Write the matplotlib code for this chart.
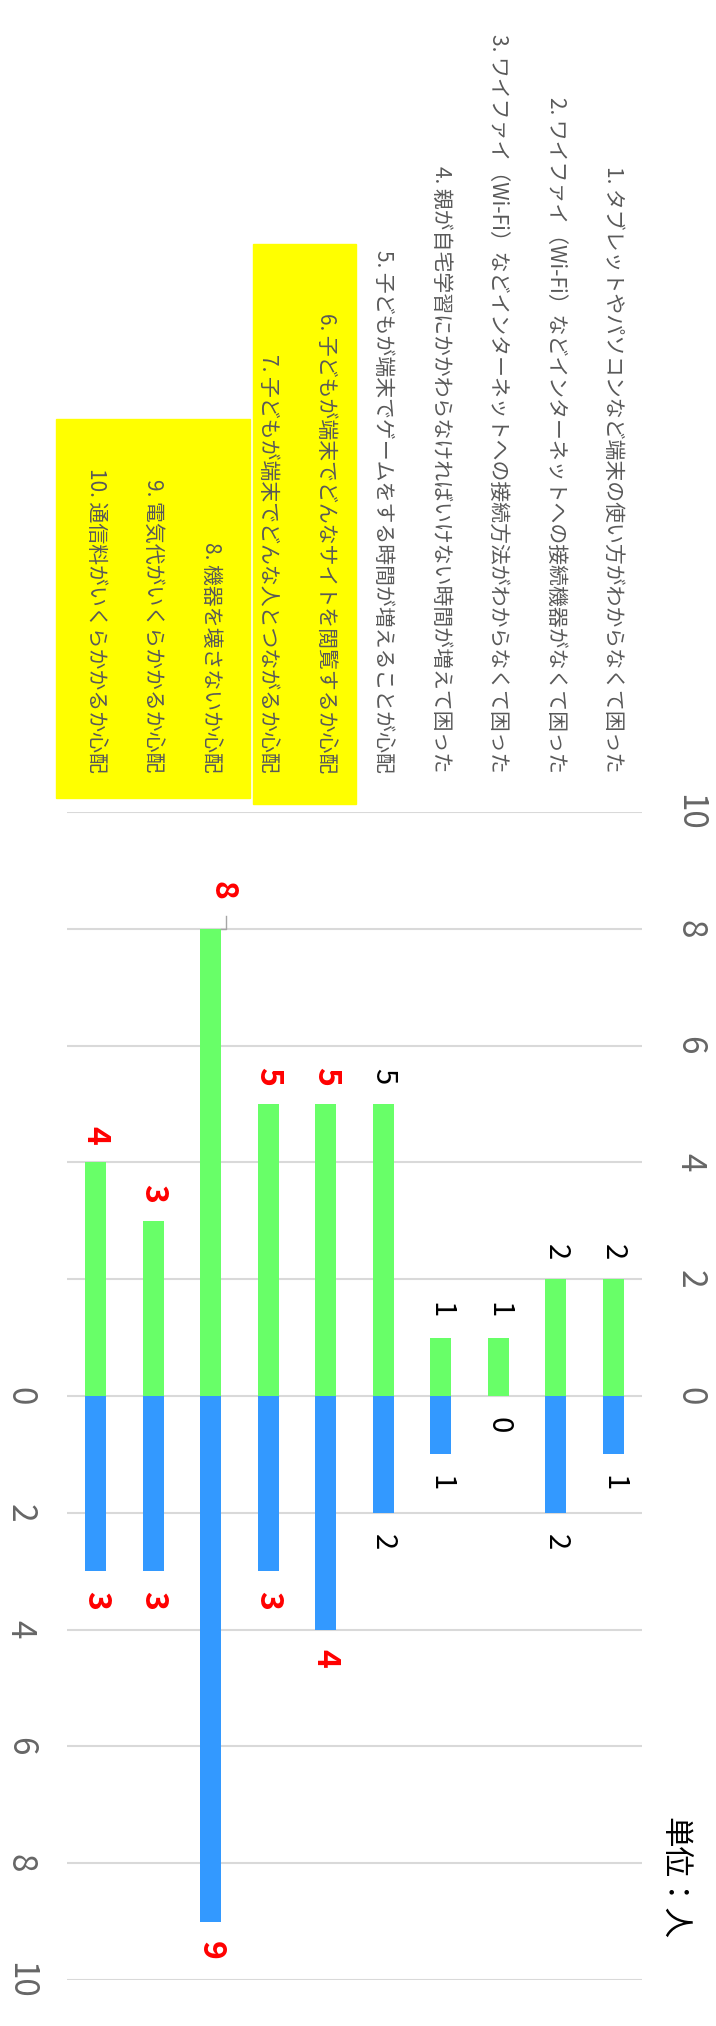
import matplotlib.pyplot as plt
from matplotlib.patches import Rectangle

plt.rcParams['font.family'] = ['Noto Sans CJK JP', 'DejaVu Sans']

categories = ['1. タブレットやパソコンなど端末の使い方がわからなくて困った',
              '2. ワイファイ（Wi-Fi）などインターネットへの接続機器がなくて困った',
              '3. ワイファイ（Wi-Fi）などインターネットへの接続方法がわからなくて困った',
              '4. 親が自宅学習にかかわらなければいけない時間が増えて困った',
              '5. 子どもが端末でゲームをする時間が増えることが心配',
              '6. 子どもが端末でどんなサイトを閲覧するか心配',
              '7. 子どもが端末でどんな人とつながるか心配',
              '8. 機器を壊さないか心配',
              '9. 電気代がいくらかかるか心配',
              '10. 通信料がいくらかかるか心配']
green_vals = [2, 2, 1, 1, 5, 5, 5, 8, 3, 4]
blue_vals = [1, 2, 0, 1, 2, 4, 3, 9, 3, 3]
# labels shown in red bold
green_red = [False, False, False, False, False, True, True, True, True, True]
blue_red = [False, False, False, False, False, True, True, True, True, True]
value_ticks = [0, 2, 4, 6, 8, 10]
unit_label = '単位：人'

W, H = 716, 2026
fig = plt.figure(figsize=(W / 100, H / 100), dpi=100)
fig.patch.set_facecolor('white')

ax = fig.add_axes([67 / W, 1 - 1980 / H, 575 / W, 1168 / H])
ax2 = ax.twinx()

xs = list(range(1, len(categories) + 1))
ax.bar(xs, green_vals, width=0.36, color='#68FF68', zorder=3)
ax.bar(xs, [-v for v in blue_vals], width=0.36, color='#3399FF', zorder=3)

ax.set_xlim(10.5, 0.5)
ax.set_ylim(-10, 10)
ax2.set_ylim(-10, 10)

for v in range(-10, 11, 2):
    ax.axhline(v, color='#d9d9d9', lw=1.5, zorder=1)

for a in (ax, ax2):
    for s in a.spines.values():
        s.set_visible(False)
    a.tick_params(length=0)
ax.set_xticks([])

# positive side ticks on the right, negative side ticks on the left
ax.yaxis.tick_right()
ax.set_yticks(value_ticks)
ax.set_yticklabels([str(t) for t in value_ticks], rotation=270,
                   fontsize=24, color='#666666', va='center')
ax.tick_params(axis='y', pad=22)
ax2.yaxis.tick_left()
ax2.set_yticks([-t for t in value_ticks])
ax2.set_yticklabels([str(t) for t in value_ticks], rotation=270,
                    fontsize=24, color='#666666', va='center')
ax2.tick_params(axis='y', pad=21, length=0)

# value labels
i_max = green_vals.index(max(green_vals))
for i, (x, g, b, gr, br) in enumerate(zip(xs, green_vals, blue_vals, green_red, blue_red)):
    kw = dict(color='red', fontweight='bold', fontsize=23) if gr else dict(color='black', fontsize=21)
    dx, dy = (-0.2, 0.65) if i == i_max else (0, 0.47)
    ax.text(x + dx, g + dy, str(g), rotation=270, ha='center', va='center', zorder=5, **kw)
    kw = dict(color='red', fontweight='bold', fontsize=23) if br else dict(color='black', fontsize=21)
    ax.text(x, -b - 0.5, str(b), rotation=270, ha='center', va='center', zorder=5, **kw)

# small leader mark on the moved label
ax.plot([xs[i_max] - 0.18, xs[i_max] - 0.27, xs[i_max] - 0.27],
        [green_vals[i_max], green_vals[i_max], green_vals[i_max] + 0.22],
        color='#a6a6a6', lw=1, zorder=4)

# category labels above the axis
for x, lab in zip(xs, categories):
    ax.text(x, 10.67, lab, rotation=270, ha='center', va='bottom',
            fontsize=15, color='#595959', clip_on=False, zorder=5)

# yellow highlight boxes
fig.patches.append(Rectangle((253 / W, 1 - 804 / H), 103 / W, 560 / H,
                             transform=fig.transFigure, color='#FFFF00', zorder=-1))
fig.patches.append(Rectangle((56 / W, 1 - 798 / H), 194 / W, 379 / H,
                             transform=fig.transFigure, color='#FFFF00', zorder=-1))

fig.text(673 / W, 1 - 1878 / H, unit_label, rotation=270, ha='center', va='center',
         fontsize=22, color='black')

fig.savefig('out.png', dpi=100, facecolor='white')
